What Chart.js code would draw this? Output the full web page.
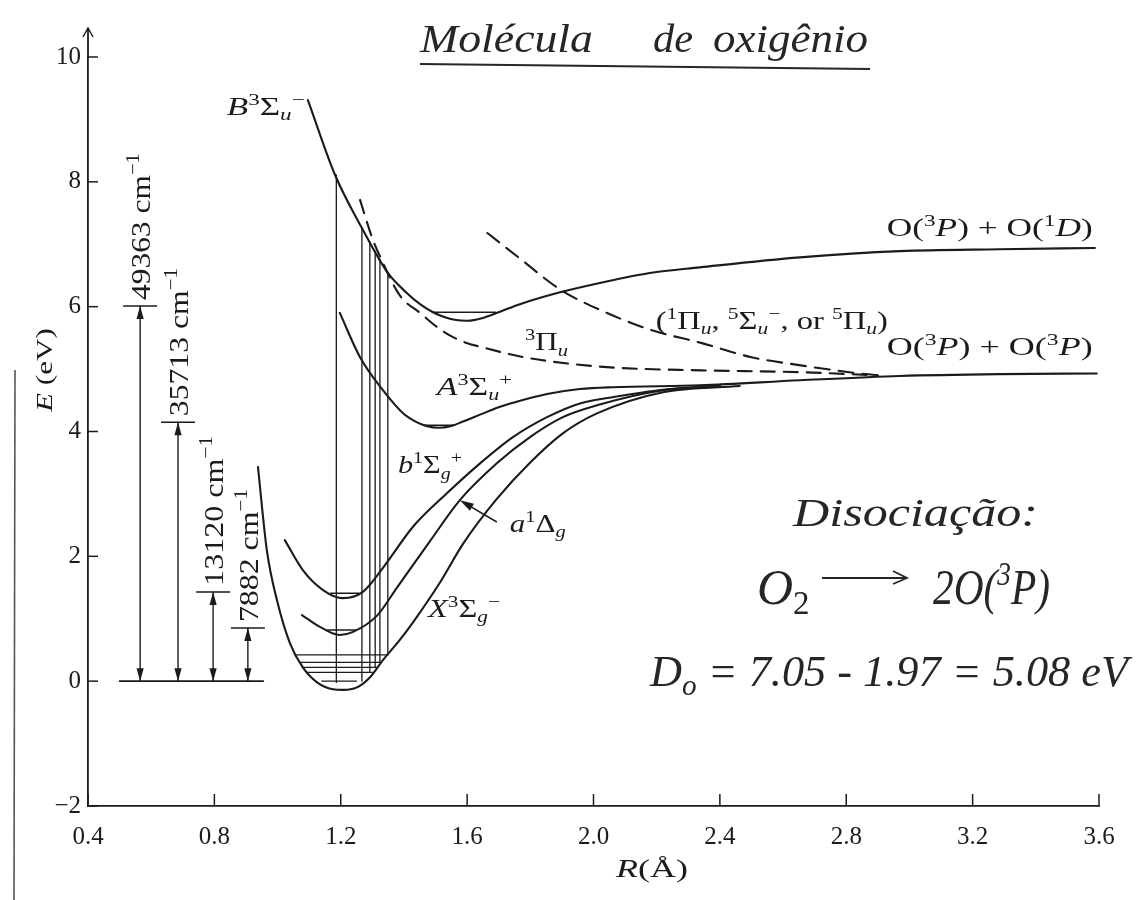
<!DOCTYPE html>
<html>
<head>
<meta charset="utf-8">
<script src="https://cdn.jsdelivr.net/npm/chart.js@4.4.1/dist/chart.umd.min.js"></script>
<style>
html,body{margin:0;padding:0;background:#fff;}
canvas{display:block;}
</style>
</head>
<body>
<canvas id="chart" width="1143" height="900"></canvas>
<script>
// ---------------- data (R in Å, E in eV) ----------------
const xTickValues = [0.4, 0.8, 1.2, 1.6, 2.0, 2.4, 2.8, 3.2, 3.6];
const yTickValues = [-2, 0, 2, 4, 6, 8, 10];

// B 3Σu−
const B_R = [1.096,1.182,1.267,1.349,1.409,1.451,1.492,1.530,1.565,1.600,1.650,1.704,1.767,1.894,2.020,2.178,2.337,2.653,2.970,3.286,3.587];
const B_E = [9.31,8.11,7.26,6.54,6.22,6.04,5.91,5.83,5.785,5.775,5.82,5.92,6.04,6.23,6.38,6.54,6.63,6.79,6.89,6.92,6.94];
// A 3Σu+
const A_R = [1.197,1.261,1.334,1.400,1.440,1.470,1.510,1.550,1.587,1.641,1.700,1.745,1.853,1.957,2.061,2.337,2.653,2.970,3.286,3.593];
const A_E = [5.90,5.19,4.66,4.28,4.15,4.09,4.06,4.09,4.16,4.27,4.39,4.46,4.60,4.68,4.71,4.74,4.82,4.89,4.92,4.93];
// 3Πu (dashed)
const Pi3_R = [1.261,1.299,1.330,1.387,1.451,1.514,1.577,1.663,1.780,1.918,2.076,2.340,2.656,2.900];
const Pi3_E = [7.71,7.11,6.74,6.18,5.90,5.64,5.46,5.33,5.19,5.09,5.02,4.98,4.95,4.90];
// (1Πu, 5Σu−, or 5Πu) (dashed)
const Rep_R = [1.664,1.760,1.896,2.020,2.180,2.340,2.500,2.656,2.810,2.900];
const Rep_E = [7.18,6.80,6.27,5.95,5.63,5.42,5.19,5.06,4.95,4.90];
// b 1Σg+
const b_R = [1.023,1.080,1.144,1.207,1.270,1.340,1.428,1.536,1.641,1.745,1.853,1.957,2.061,2.220,2.400];
const b_E = [2.26,1.78,1.46,1.33,1.43,1.86,2.47,3.01,3.49,3.91,4.23,4.45,4.55,4.67,4.73];
// a 1Δg
const a_R = [1.077,1.134,1.197,1.239,1.315,1.378,1.482,1.577,1.694,1.799,1.903,2.011,2.220,2.400];
const a_E = [1.06,0.87,0.74,0.79,1.05,1.50,2.24,2.90,3.49,3.91,4.23,4.42,4.66,4.73];
// X 3Σg−
const X_R = [0.938,0.966,0.998,1.039,1.080,1.125,1.175,1.207,1.251,1.292,1.334,1.387,1.441,1.514,1.587,1.694,1.799,1.903,2.011,2.220,2.463];
const X_E = [3.43,2.10,1.30,0.61,0.22,-0.02,-0.13,-0.14,-0.10,0.06,0.34,0.66,1.03,1.58,2.20,2.92,3.50,3.97,4.29,4.63,4.73];

// vibrational levels of X
const xLevelE     = [0.00, 0.14, 0.22, 0.30, 0.42];
const xLevelLeft  = [1.140, 1.094, 1.080, 1.071, 1.058];
const xLevelRight = [1.250, 1.300, 1.315, 1.328, 1.347];
// v=0 levels of B, A, b, a
const v0E     = [5.91, 4.10, 1.41, 0.82];
const v0Left  = [1.492, 1.462, 1.168, 1.158];
const v0Right = [1.690, 1.560, 1.258, 1.247];
// vertical (Franck–Condon) transitions X -> B
const transR      = [1.186, 1.267, 1.292, 1.309, 1.324, 1.349];
const transTop    = [8.11, 7.26, 7.04, 6.89, 6.76, 6.54];
const transBottom = [-0.02, 0.00, 0.14, 0.22, 0.30, 0.42];
// energy gaps (left side)
const gapLabel = ['49363', '35713', '13120', '7882'];
const gapR     = [0.565, 0.685, 0.796, 0.906];
const gapE     = [6.01, 4.15, 1.43, 0.85];
const gapBaseR = [0.500, 0.955];
const gapBaseE = 0;

// ---------------- styling ----------------
const INK = '#1b1b1b';
const SERIF = '"Liberation Serif", "DejaVu Serif", serif';
const HAND = '"Liberation Serif", "DejaVu Serif", serif';

const pts = (R, E) => R.map((r, i) => ({x: r, y: E[i]}));
const curve = (R, E, dash) => ({
  data: pts(R, E), borderColor: INK, borderWidth: 2.1, pointRadius: 0,
  fill: false, cubicInterpolationMode: 'monotone', borderDash: dash || [],
});
const seg = (x1, y1, x2, y2, w) => ({
  data: [{x: x1, y: y1}, {x: x2, y: y2}], borderColor: INK, borderWidth: w || 1.3,
  pointRadius: 0, fill: false, tension: 0,
});

const datasets = [
  curve(B_R, B_E), curve(A_R, A_E), curve(b_R, b_E), curve(a_R, a_E), curve(X_R, X_E),
  curve(Pi3_R, Pi3_E, [14, 9]), curve(Rep_R, Rep_E, [15, 9]),
];
xLevelE.forEach((e, i) => datasets.push(seg(xLevelLeft[i], e, xLevelRight[i], e, 1.3)));
v0E.forEach((e, i) => datasets.push(seg(v0Left[i], e, v0Right[i], e, 1.5)));
transR.forEach((r, i) => datasets.push(seg(r, transBottom[i], r, transTop[i], 1.3)));
gapR.forEach((r, i) => datasets.push(seg(r, gapBaseE, r, gapE[i], 1.4)));
datasets.push(seg(gapBaseR[0], gapBaseE, gapBaseR[1], gapBaseE, 1.6));

// ---------------- rich text helper ----------------
function richParts(ctx, segs, size, family) {
  return segs.map(([t, f]) => {
    const sup = f.includes('^'), sub = f.includes('_'), it = f.includes('i');
    const s = (sup || sub) ? size * 0.66 : size;
    const font = `${it ? 'italic ' : ''}${s}px ${family}`;
    ctx.font = font;
    return {t, font, w: ctx.measureText(t).width, dy: sup ? -size * 0.38 : (sub ? size * 0.2 : 0)};
  });
}
function drawRich(ctx, segs, x, y, size, align, family, fitWidth) {
  family = family || SERIF;
  const parts = richParts(ctx, segs, size, family);
  const total = parts.reduce((a, p) => a + p.w, 0);
  const k = fitWidth ? fitWidth / total : 1;
  const w = total * k;
  let x0 = align === 'right' ? x - w : (align === 'center' ? x - w / 2 : x);
  ctx.save();
  ctx.translate(x0, y);
  ctx.scale(k, 1);
  ctx.textAlign = 'left';
  ctx.textBaseline = 'alphabetic';
  let cx = 0;
  for (const p of parts) { ctx.font = p.font; ctx.fillText(p.t, cx, p.dy); cx += p.w; }
  ctx.restore();
  return w;
}

// label anchors in data coordinates (R, E); w = printed width in px
const curveLabels = [
  {segs: [['B','i'],['3','^'],['Σ',''],['u','_i'],['−','^']], R: 1.086, E: 9.07, align: 'right', w: 78},
  {segs: [['O(',''],['3','^'],['P','i'],[') + O(',''],['1','^'],['D','i'],[')','']], R: 3.580, E: 7.14, align: 'right', w: 206},
  {segs: [['(',''],['1','^'],['Π',''],['u','_i'],[', ',''],['5','^'],['Σ',''],['u','_i'],['−','^'],[', or ',''],['5','^'],['Π',''],['u','_i'],[')','']], R: 2.197, E: 5.64, align: 'left', w: 232},
  {segs: [['O(',''],['3','^'],['P','i'],[') + O(',''],['3','^'],['P','i'],[')','']], R: 3.580, E: 5.23, align: 'right', w: 206},
  {segs: [['3','^'],['Π',''],['u','_i']], R: 1.783, E: 5.30, align: 'left', w: 43},
  {segs: [['A','i'],['3','^'],['Σ',''],['u','_i'],['+','^']], R: 1.504, E: 4.58, align: 'left', w: 75},
  {segs: [['b','i'],['1','^'],['Σ',''],['g','_i'],['+','^']], R: 1.381, E: 3.33, align: 'left', w: 64},
  {segs: [['a','i'],['1','^'],['Δ',''],['g','_i']], R: 1.735, E: 2.39, align: 'left', w: 56},
  {segs: [['X','i'],['3','^'],['Σ',''],['g','_i'],['−','^']], R: 1.476, E: 1.03, align: 'left', w: 72},
];
const gapLabelWidth = [147, 148, 150, 133];

function arrowHead(ctx, x, y, dx, dy, len, half) {
  const n = Math.hypot(dx, dy); dx /= n; dy /= n;
  const bx = x - dx * len, by = y - dy * len;
  ctx.beginPath();
  ctx.moveTo(x, y);
  ctx.lineTo(bx - dy * half, by + dx * half);
  ctx.lineTo(bx + dy * half, by - dx * half);
  ctx.closePath();
  ctx.fill();
}
function line(ctx, x1, y1, x2, y2) { ctx.beginPath(); ctx.moveTo(x1, y1); ctx.lineTo(x2, y2); ctx.stroke(); }

const decor = {
  id: 'decor',
  afterDraw(chart) {
    const {ctx, chartArea: ca} = chart;
    const xs = chart.scales.x, ys = chart.scales.y;
    const X = v => xs.getPixelForValue(v), Y = v => ys.getPixelForValue(v);
    ctx.save();
    ctx.strokeStyle = INK; ctx.fillStyle = INK;

    // page edge of the scan
    ctx.strokeStyle = '#555'; ctx.lineWidth = 1.6;
    line(ctx, 15, 370, 14, 900);
    ctx.strokeStyle = INK;

    // inward tick marks
    ctx.lineWidth = 1.5;
    yTickValues.forEach(v => line(ctx, ca.left, Y(v), ca.left + 10, Y(v)));
    xTickValues.forEach(v => line(ctx, X(v), ca.bottom, X(v), ca.bottom - 12));

    // y-axis extension + open arrow
    ctx.lineWidth = 1.8;
    line(ctx, ca.left, ca.top, ca.left, ca.top - 29);
    ctx.lineWidth = 1.4;
    ctx.beginPath();
    ctx.moveTo(ca.left - 5, ca.top - 20); ctx.lineTo(ca.left, ca.top - 29); ctx.lineTo(ca.left + 5, ca.top - 20);
    ctx.stroke();

    // axis titles
    ctx.fillStyle = INK;
    ctx.save();
    ctx.translate(52, 370); ctx.rotate(-Math.PI / 2);
    drawRich(ctx, [['E','i'],[' (eV)','']], 0, 0, 24, 'center', SERIF, 84);
    ctx.restore();
    drawRich(ctx, [['R','i'],['(Å)','']], 652, 877, 25, 'center', SERIF, 72);

    // energy gap arrows
    ctx.lineWidth = 1.5;
    gapR.forEach((r, i) => {
      const px = X(r), top = Y(gapE[i]), bot = Y(gapBaseE);
      line(ctx, px - 17, top, px + 17, top);
      arrowHead(ctx, px, top, 0, -1, 13, 3.6);
      arrowHead(ctx, px, bot, 0, 1, 13, 3.6);
      ctx.save();
      ctx.translate(px + 10, top - 6);
      ctx.rotate(-Math.PI / 2);
      drawRich(ctx, [[gapLabel[i], ''], [' cm', ''], ['−1', '^']], 0, 0, 28, 'left', SERIF, gapLabelWidth[i]);
      ctx.restore();
    });

    // curve labels
    curveLabels.forEach(l => drawRich(ctx, l.segs, X(l.R), Y(l.E), 26, l.align, SERIF, l.w));

    // a 1Δg pointer
    ctx.lineWidth = 1.5;
    const ax1 = X(1.694), ay1 = Y(2.55), ax2 = X(1.577), ay2 = Y(2.90);
    line(ctx, ax1, ay1, ax2 + (ax1 - ax2) * 0.2, ay2 + (ay1 - ay2) * 0.2);
    arrowHead(ctx, ax2, ay2, ax2 - ax1, ay2 - ay1, 14, 4);

    // handwritten notes
    ctx.fillStyle = '#262626';
    drawRich(ctx, [['Molécula','i']], 420, 52, 40, 'left', HAND, 173);
    drawRich(ctx, [['de','i']], 653, 52, 40, 'left', HAND, 40);
    drawRich(ctx, [['oxigênio','i']], 713, 52, 40, 'left', HAND, 155);
    ctx.strokeStyle = '#262626'; ctx.lineWidth = 1.8;
    line(ctx, 420, 64, 870, 69);

    drawRich(ctx, [['Disociação:','i']], 793, 526, 40, 'left', HAND, 245);
    drawRich(ctx, [['O','i'],['2','_']], 757, 604, 50, 'left', HAND);
    ctx.lineWidth = 1.8;
    line(ctx, 822, 578, 905, 578);
    ctx.beginPath(); ctx.moveTo(893, 571); ctx.lineTo(907, 578); ctx.lineTo(893, 584); ctx.stroke();
    drawRich(ctx, [['2O(','i'],['3','^i'],['P)','i']], 933, 604, 50, 'left', HAND, 117);
    drawRich(ctx, [['D','i'],['o','_i'],[' = 7.05 - 1.97 = 5.08 eV','i']], 650, 686, 44, 'left', HAND, 478);

    ctx.restore();
  }
};

new Chart(document.getElementById('chart'), {
  type: 'line',
  data: {datasets},
  plugins: [decor],
  options: {
    responsive: false,
    animation: false,
    layout: {padding: {left: 0, top: 57, right: 44, bottom: 0}},
    plugins: {legend: {display: false}, tooltip: {enabled: false}, title: {display: false}},
    elements: {point: {radius: 0}, line: {borderCapStyle: 'round', borderJoinStyle: 'round'}},
    scales: {
      x: {
        type: 'linear', min: 0.4, max: 3.6,
        afterBuildTicks: s => { s.ticks = xTickValues.map(v => ({value: v})); },
        afterFit: s => { s.height = 94; },
        grid: {display: false, drawTicks: false},
        border: {display: true, color: INK, width: 1.8},
        ticks: {autoSkip: false, maxRotation: 0, padding: 16, color: INK,
                font: {family: SERIF, size: 25}, callback: v => Number(v).toFixed(1)}
      },
      y: {
        type: 'linear', min: -2, max: 10,
        afterBuildTicks: s => { s.ticks = yTickValues.map(v => ({value: v})); },
        afterFit: s => { s.width = 88; },
        grid: {display: false, drawTicks: false},
        border: {display: true, color: INK, width: 1.8},
        ticks: {padding: 7, color: INK, font: {family: SERIF, size: 25},
                callback: v => v < 0 ? '−' + Math.abs(v) : String(v)}
      }
    }
  }
});
</script>
</body>
</html>
